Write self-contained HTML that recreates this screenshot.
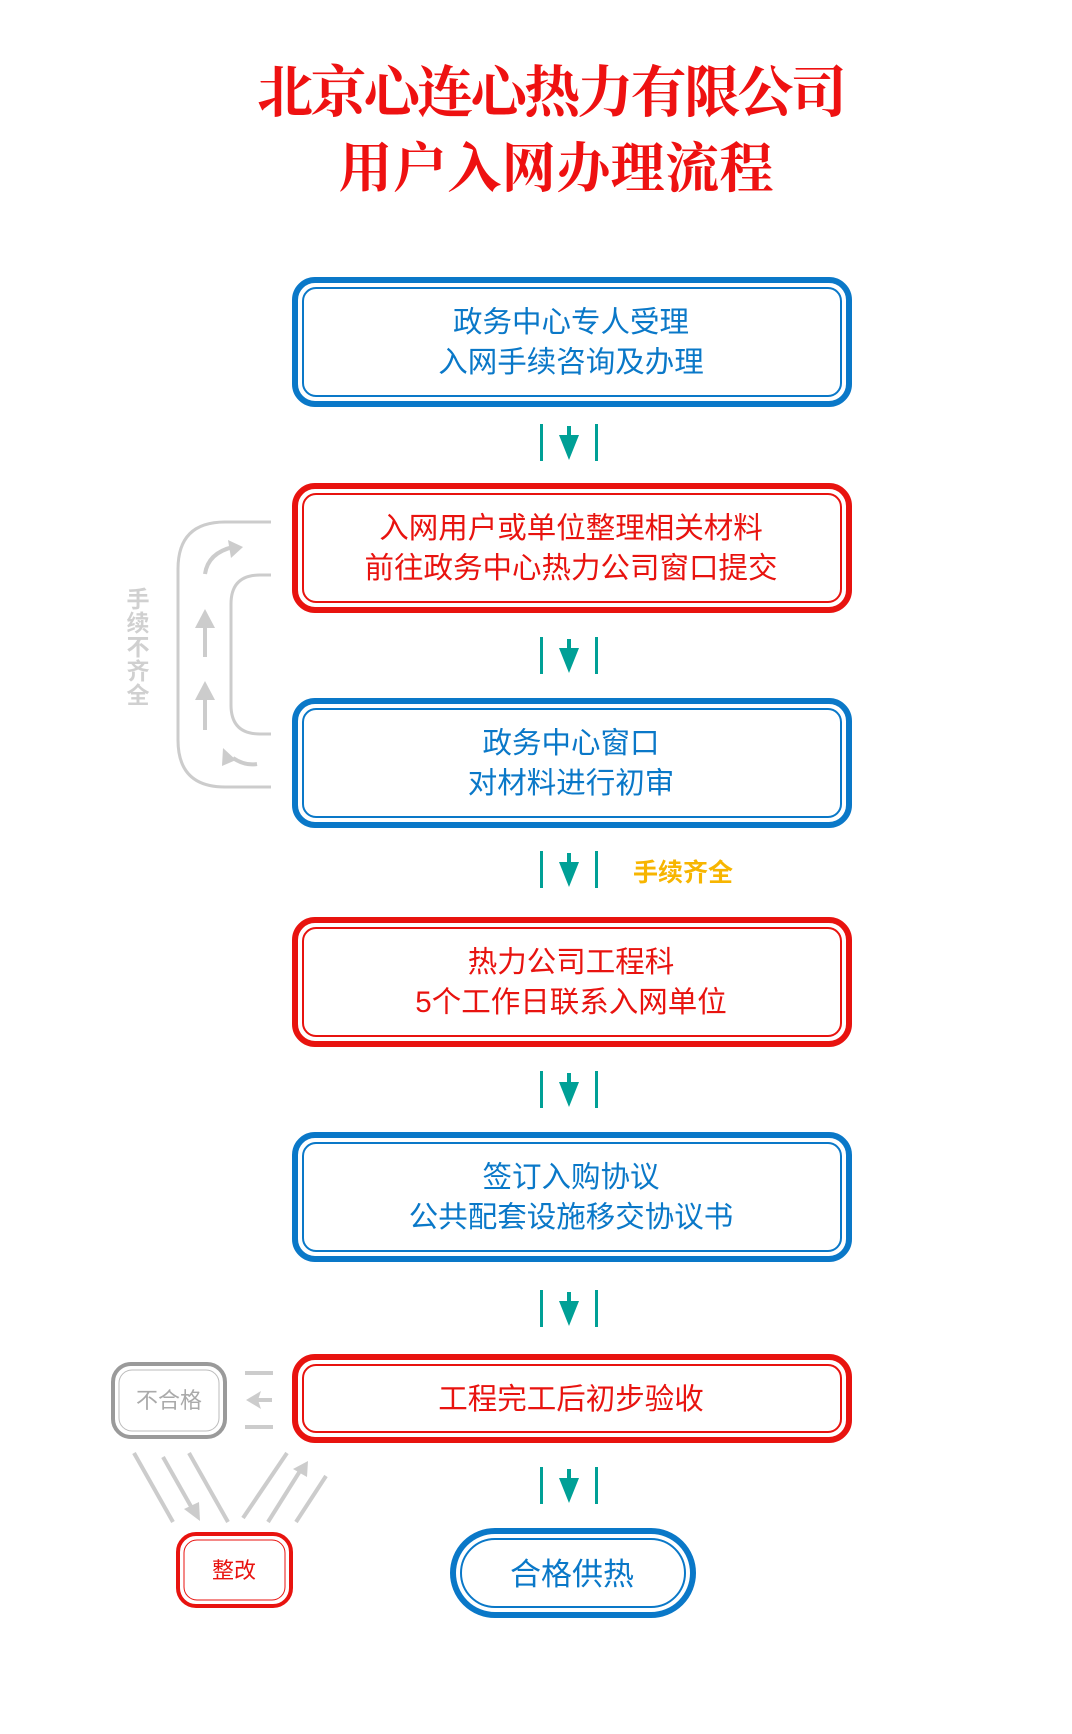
<!DOCTYPE html>
<html><head><meta charset="utf-8"><style>
html,body{margin:0;padding:0;background:#fff;}
svg{display:block;}
.t{font-family:"Liberation Sans","Noto Sans CJK SC",sans-serif;}
</style></head><body>
<svg width="1072" height="1734" viewBox="0 0 1072 1734" xmlns="http://www.w3.org/2000/svg">
<defs>
<g id="conn">
<rect x="-29" y="0" width="3" height="37" fill="#00a096"/>
<rect x="26" y="0" width="3" height="37" fill="#00a096"/>
<rect x="-2" y="2" width="4" height="16" fill="#00a096"/>
<path d="M-10 11 L10 11 L0 36 Z" fill="#00a096"/>
</g>
</defs>
<!-- title -->
<text x="552" y="112" text-anchor="middle" font-family="'Noto Serif CJK SC',serif" font-weight="700" font-size="56" fill="#ee1111" textLength="590" lengthAdjust="spacing">北京心连心热力有限公司</text>
<text x="556" y="187" text-anchor="middle" font-family="'Noto Serif CJK SC',serif" font-weight="700" font-size="54" fill="#ee1111" textLength="435" lengthAdjust="spacing">用户入网办理流程</text>

<!-- boxes -->
<g fill="none">
<rect x="295" y="280" width="554" height="124" rx="20" stroke="#0a78c8" stroke-width="6"/>
<rect x="303" y="288" width="538" height="108" rx="13" stroke="#0a78c8" stroke-width="2"/>
<rect x="295" y="486" width="554" height="124" rx="20" stroke="#e8130f" stroke-width="6"/>
<rect x="303" y="494" width="538" height="108" rx="13" stroke="#e8130f" stroke-width="2"/>
<rect x="295" y="701" width="554" height="124" rx="20" stroke="#0a78c8" stroke-width="6"/>
<rect x="303" y="709" width="538" height="108" rx="13" stroke="#0a78c8" stroke-width="2"/>
<rect x="295" y="920" width="554" height="124" rx="20" stroke="#e8130f" stroke-width="6"/>
<rect x="303" y="928" width="538" height="108" rx="13" stroke="#e8130f" stroke-width="2"/>
<rect x="295" y="1135" width="554" height="124" rx="20" stroke="#0a78c8" stroke-width="6"/>
<rect x="303" y="1143" width="538" height="108" rx="13" stroke="#0a78c8" stroke-width="2"/>
<rect x="295" y="1357" width="554" height="83" rx="20" stroke="#e8130f" stroke-width="6"/>
<rect x="303" y="1365" width="538" height="67" rx="13" stroke="#e8130f" stroke-width="2"/>
<rect x="453" y="1531" width="240" height="84" rx="42" stroke="#0a78c8" stroke-width="6"/>
<rect x="461" y="1539" width="224" height="68" rx="34" stroke="#0a78c8" stroke-width="2"/>
<rect x="113" y="1364" width="112" height="73" rx="18" stroke="#9a9a9a" stroke-width="4"/>
<rect x="119" y="1370" width="100" height="61" rx="13" stroke="#bbbbbb" stroke-width="1"/>
<rect x="178" y="1534" width="113" height="72" rx="18" stroke="#e8130f" stroke-width="4"/>
<rect x="184" y="1540" width="101" height="60" rx="13" stroke="#e8130f" stroke-width="1"/>
</g>

<g class="t" text-anchor="middle" font-size="29.5">
<text x="571" y="332" fill="#0a78c8">政务中心专人受理</text>
<text x="571" y="372" fill="#0a78c8">入网手续咨询及办理</text>
<text x="571" y="538" fill="#e8130f">入网用户或单位整理相关材料</text>
<text x="571" y="578" fill="#e8130f">前往政务中心热力公司窗口提交</text>
<text x="571" y="753" fill="#0a78c8">政务中心窗口</text>
<text x="571" y="793" fill="#0a78c8">对材料进行初审</text>
<text x="571" y="972" fill="#e8130f">热力公司工程科</text>
<text x="571" y="1012" fill="#e8130f">5个工作日联系入网单位</text>
<text x="571" y="1187" fill="#0a78c8">签订入购协议</text>
<text x="571" y="1227" fill="#0a78c8">公共配套设施移交协议书</text>
<text x="571" y="1409" fill="#e8130f">工程完工后初步验收</text>
<text x="572" y="1585" fill="#0a78c8" font-size="31">合格供热</text>
<text x="169" y="1408" fill="#aaaaaa" font-size="22">不合格</text>
<text x="234" y="1578" fill="#e8130f" font-size="22">整改</text>
<text x="683" y="881" fill="#f7b500" font-size="25" font-weight="bold">手续齐全</text>
</g>

<!-- connectors -->
<use href="#conn" x="569" y="424"/>
<use href="#conn" x="569" y="637"/>
<use href="#conn" x="569" y="851"/>
<use href="#conn" x="569" y="1071"/>
<use href="#conn" x="569" y="1290"/>
<use href="#conn" x="569" y="1467"/>

<!-- loop -->
<g fill="none" stroke="#cccccc" stroke-width="3">
<path d="M271 522 H225 Q178 522 178 569 V740 Q178 787 225 787 H271"/>
<path d="M271 575 H260 Q231 575 231 604 V705 Q231 734 260 734 H271"/>
<path d="M205 574 Q208 553 233 547" stroke-width="4"/>
<path d="M257 764 Q245 766 233 758" stroke-width="4"/>
</g>
<g fill="#cccccc">
<rect x="203" y="625" width="4" height="32"/>
<path d="M195 628 L205 609 L215 628 Z"/>
<rect x="203" y="697" width="4" height="33"/>
<path d="M195 700 L205 681 L215 700 Z"/>
<path d="M228 540 L243 547 L231 558 Z"/>
<path d="M223 748 L222 766 L236 760 Z"/>
</g>
<g class="t" fill="#d0d0d0" font-size="23" font-weight="bold" text-anchor="middle">
<text x="138" y="607">手</text><text x="138" y="631">续</text><text x="138" y="655">不</text><text x="138" y="679">齐</text><text x="138" y="703">全</text>
</g>

<!-- 不合格 connectors -->
<g stroke="#cccccc" stroke-width="4" fill="none">
<line x1="245" y1="1373" x2="273" y2="1373"/>
<line x1="245" y1="1427" x2="273" y2="1427"/>
<line x1="252" y1="1400" x2="272" y2="1400"/>
<line x1="134" y1="1453" x2="173" y2="1522"/>
<line x1="163" y1="1457" x2="193" y2="1510"/>
<line x1="189" y1="1453" x2="228" y2="1522"/>
<line x1="243" y1="1518" x2="287" y2="1453"/>
<line x1="268" y1="1522" x2="300" y2="1471"/>
<line x1="296" y1="1522" x2="326" y2="1476"/>
</g>
<g fill="#cccccc">
<path d="M246 1400 L261 1391 L258 1400 L261 1409 Z"/>
<path d="M200 1521 L184 1509 L199 1502 Z"/>
<path d="M308 1461 L293 1469 L307 1477 Z"/>
</g>
</svg>
</body></html>
